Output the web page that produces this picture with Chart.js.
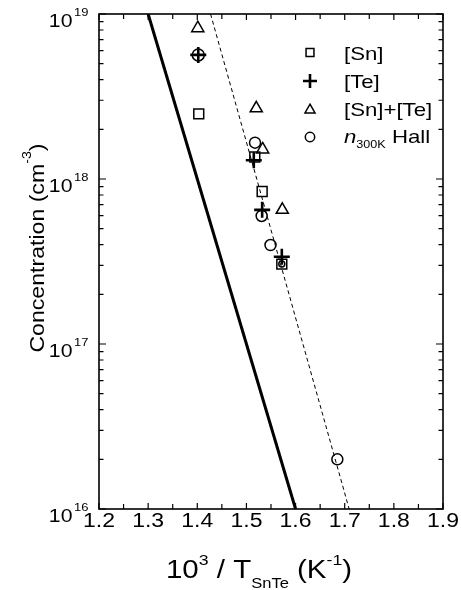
<!DOCTYPE html>
<html><head><meta charset="utf-8">
<script src="https://cdn.jsdelivr.net/npm/chart.js@4/dist/chart.umd.min.js"></script>
<style>html,body{margin:0;padding:0;background:#fff;}canvas{display:block;}</style>
</head><body>
<canvas id="c" width="461" height="590"></canvas>
<script>
// ---- data ----
const snX = [1.403, 1.517, 1.532, 1.572];
const snY = [2.48e18, 1.36e18, 8.4e17, 3.05e17];
const teX = [1.402, 1.515, 1.532, 1.572];
const teY = [5.65e18, 1.30e18, 6.5e17, 3.38e17];
const sumX = [1.401, 1.520, 1.533, 1.573];
const sumY = [8.2e18, 2.68e18, 1.51e18, 6.5e17];
const hallX = [1.402, 1.5175, 1.531, 1.549, 1.572, 1.685];
const hallY = [5.65e18, 1.66e18, 5.97e17, 3.98e17, 3.05e17, 2.0e16];
const solidFitX = [1.30, 1.60];
const solidFitY = [1e19, 1e16];
const dashFitX = [1.427, 1.709];
const dashFitY = [1e19, 1e16];
const xTickLabels = ['1.2','1.3','1.4','1.5','1.6','1.7','1.8','1.9'];
const yDecades = [16, 17, 18, 19];
const legendLabels = ['[Sn]', '[Te]', '[Sn]+[Te]', 'Hall'];

const pts = (xs, ys) => xs.map((x, i) => ({x: x, y: ys[i]}));
const FONT = '"Liberation Sans", Arial, Helvetica, sans-serif';
const SX = 1.18;

function drawRich(ctx, segs, x, y, align, sx) {
  let total = 0;
  const widths = segs.map(s => {
    ctx.font = (s[3] || '') + ' ' + s[1] + 'px ' + FONT;
    const w = ctx.measureText(s[0]).width * sx; total += w; return w;
  });
  let cx = align === 'center' ? x - total / 2 : (align === 'right' ? x - total : x);
  segs.forEach((s, i) => {
    ctx.font = (s[3] || '') + ' ' + s[1] + 'px ' + FONT;
    ctx.save();
    ctx.translate(cx, y + s[2]);
    ctx.scale(sx, 1);
    ctx.textAlign = 'left'; ctx.textBaseline = 'alphabetic';
    ctx.fillStyle = '#000';
    ctx.fillText(s[0], 0, 0);
    ctx.restore();
    cx += widths[i];
  });
}

function marker(ctx, type, x, y, r, lw) {
  ctx.save();
  ctx.strokeStyle = '#000'; ctx.lineWidth = lw;
  ctx.beginPath();
  if (type === 'rect') { const s = r * Math.SQRT1_2; ctx.rect(x - s, y - s, 2 * s, 2 * s); }
  else if (type === 'cross') { ctx.moveTo(x - r, y); ctx.lineTo(x + r, y); ctx.moveTo(x, y - r); ctx.lineTo(x, y + r); }
  else if (type === 'triangle') {
    for (let k = 0; k < 3; k++) { const a = k * 2 * Math.PI / 3; const px = x + Math.sin(a) * r, py = y - Math.cos(a) * r; k ? ctx.lineTo(px, py) : ctx.moveTo(px, py); }
    ctx.closePath();
  } else { ctx.arc(x, y, r, 0, 2 * Math.PI); }
  ctx.stroke();
  ctx.restore();
}

const decor = {
  id: 'decor',
  afterDraw(chart) {
    const ctx = chart.ctx, xs = chart.scales.x, ys = chart.scales.y, a = chart.chartArea;
    ctx.save();
    ctx.strokeStyle = '#000';
    // frame
    ctx.lineWidth = 1.6;
    ctx.strokeRect(a.left, a.top, a.right - a.left, a.bottom - a.top);
    // x ticks every 0.05
    ctx.lineWidth = 1.2;
    ctx.beginPath();
    for (let i = 0; i <= 14; i++) {
      const v = 1.2 + i * 0.05, px = xs.getPixelForValue(v), L = (i % 2 === 0) ? 6 : 5;
      ctx.moveTo(px, a.bottom); ctx.lineTo(px, a.bottom - L);
      ctx.moveTo(px, a.top); ctx.lineTo(px, a.top + L);
    }
    // y log ticks
    for (let d = 16; d <= 19; d++) {
      for (let m = 1; m <= 9; m++) {
        if (d === 19 && m > 1) break;
        const py = ys.getPixelForValue(m * Math.pow(10, d)), L = m === 1 ? 7 : 4.5;
        ctx.moveTo(a.left, py); ctx.lineTo(a.left + L, py);
        ctx.moveTo(a.right, py); ctx.lineTo(a.right - L, py);
      }
    }
    ctx.stroke();
    // x tick labels
    xTickLabels.forEach(t => {
      const px = xs.getPixelForValue(parseFloat(t));
      drawRich(ctx, [[t, 19.5, 0]], px, 527, 'center', SX);
    });
    // y tick labels
    yDecades.forEach(d => {
      const py = ys.getPixelForValue(Math.pow(10, d));
      drawRich(ctx, [['10', 18, 0]], 72.5, py + 13, 'right', SX);
      drawRich(ctx, [[String(d), 11, 0]], 74, py + 2, 'left', SX);
    });
    // x title
    drawRich(ctx, [['10', 25, 0], ['3', 15, -13], [' / T', 25, 0], ['SnTe', 14, 10], [' (K', 25, 0], ['-1', 15, -13], [')', 25, 0]],
      259, 578, 'center', SX);
    // y title
    ctx.save();
    ctx.translate(36, 248);
    ctx.rotate(-Math.PI / 2);
    drawRich(ctx, [['Concentration (cm', 21, 0], ['-3', 13, -13], [')', 21, 0]], 0, 7.5, 'center', 1.1);
    ctx.restore();
    // legend
    const lx = 310, tx = 344, rows = [52.5, 81, 109, 137];
    marker(ctx, 'rect', lx, rows[0], 5.6, 1.5);
    marker(ctx, 'cross', lx, rows[1], 7, 2.6);
    marker(ctx, 'triangle', lx, rows[2] + 1, 5.8, 1.5);
    marker(ctx, 'circle', lx, rows[3], 4.7, 1.5);
    drawRich(ctx, [[legendLabels[0], 18.5, 0]], tx, rows[0] + 7, 'left', 1.2);
    drawRich(ctx, [[legendLabels[1], 18.5, 0]], tx, rows[1] + 7, 'left', 1.2);
    drawRich(ctx, [[legendLabels[2], 18.5, 0]], tx, rows[2] + 7, 'left', 1.2);
    drawRich(ctx, [['n', 18.5, 0, 'italic'], ['300K', 10.5, 5], [' ' + legendLabels[3], 18.5, 0]], tx, rows[3] + 6, 'left', 1.2);
    ctx.restore();
  }
};

const pointBase = {showLine: false, pointBorderColor: '#000', pointBackgroundColor: 'rgba(0,0,0,0)', pointBorderWidth: 1.5, pointHoverRadius: 0};

new Chart(document.getElementById('c'), {
  type: 'scatter',
  data: {
    datasets: [
      Object.assign({}, pointBase, {label: '[Te]', data: pts(teX, teY), pointStyle: 'cross', pointRadius: 8, pointBorderWidth: 2.6}),
      Object.assign({}, pointBase, {label: '[Sn]', data: pts(snX, snY), pointStyle: 'rect', pointRadius: 7}),
      Object.assign({}, pointBase, {label: '[Sn]+[Te]', data: pts(sumX, sumY), pointStyle: 'triangle', pointRadius: 7}),
      Object.assign({}, pointBase, {label: 'n300K Hall', data: pts(hallX, hallY), pointStyle: 'circle', pointRadius: [6, 5.5, 5.5, 5.5, 3, 5.5]}),
      {label: 'fit', data: pts(solidFitX, solidFitY), showLine: true, borderColor: '#000', borderWidth: 3, pointRadius: 0},
      {label: 'fit2', data: pts(dashFitX, dashFitY), showLine: true, borderColor: '#000', borderWidth: 1, borderDash: [4, 3], pointRadius: 0}
    ]
  },
  options: {
    responsive: false, animation: false, devicePixelRatio: 1,
    layout: {padding: {top: 14, right: 18, left: 0, bottom: 0}},
    plugins: {legend: {display: false}, tooltip: {enabled: false}},
    events: [],
    scales: {
      x: {type: 'linear', min: 1.2, max: 1.9, ticks: {display: false}, grid: {display: false}, border: {display: false},
          afterFit(s) { s.height = 81; }},
      y: {type: 'logarithmic', min: 1e16, max: 1e19, ticks: {display: false}, grid: {display: false}, border: {display: false},
          afterFit(s) { s.width = 99; }}
    }
  },
  plugins: [decor]
});
</script>
</body></html>
